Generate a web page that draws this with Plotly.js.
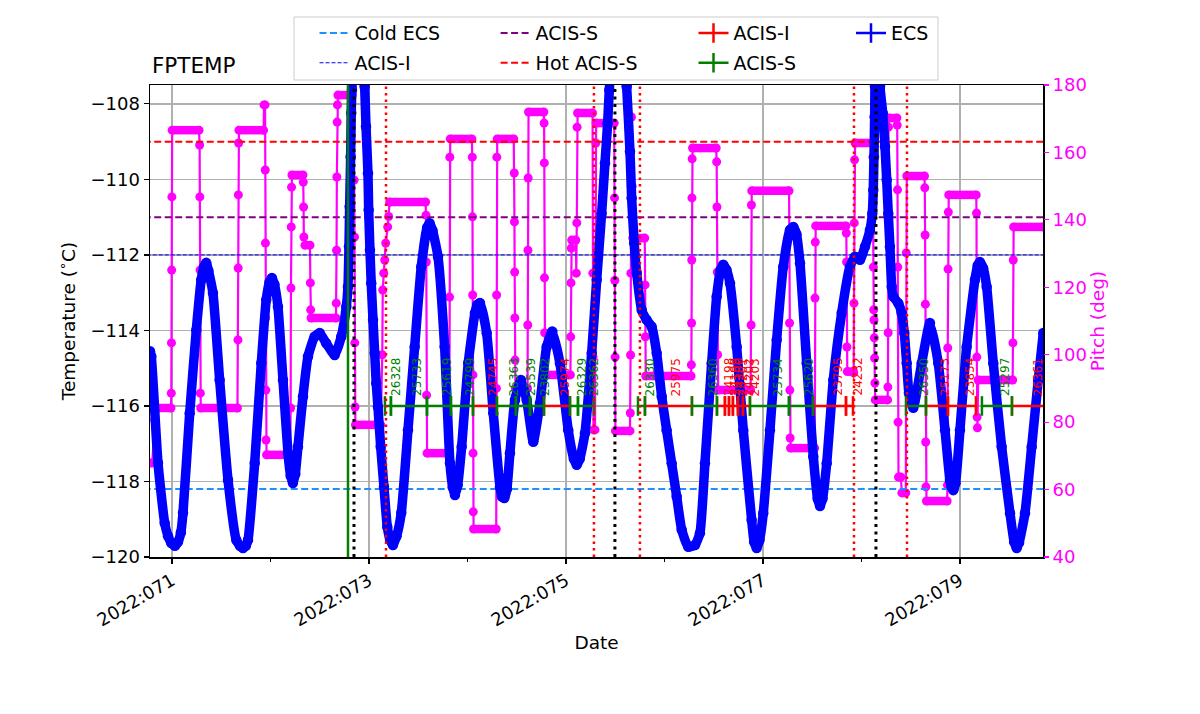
<!DOCTYPE html>
<html><head><meta charset="utf-8">
<script src="https://cdn.plot.ly/plotly-3.0.1.min.js"></script>
<style>html,body{margin:0;padding:0;background:#fff}#chart{width:1200px;height:714px}</style>
</head><body><div id="chart"></div>
<script>
// ---- FPTEMP (day of year 2022, degC) ----
const tempT = [70.777,70.790,70.858,70.926,70.960,70.993,71.030,71.061,71.090,71.112,71.180,71.247,71.297,71.325,71.348,71.370,71.416,71.484,71.569,71.653,71.690,71.721,71.750,71.772,71.840,71.907,71.957,71.990,72.015,72.040,72.076,72.127,72.178,72.205,72.228,72.252,72.279,72.330,72.381,72.449,72.500,72.566,72.652,72.719,72.770,72.787,72.797,72.804,72.814,72.820,72.827,72.89,72.956,72.970,72.990,72.997,73.010,73.023,73.041,73.058,73.074,73.091,73.119,73.152,73.186,73.215,73.244,73.280,73.328,73.396,73.464,73.531,73.590,73.616,73.645,73.701,73.768,73.822,73.850,73.873,73.900,73.941,74.008,74.076,74.100,74.127,74.195,74.262,74.330,74.350,74.374,74.400,74.431,74.482,74.543,74.601,74.668,74.736,74.804,74.861,74.939,75.023,75.080,75.109,75.140,75.193,75.261,75.312,75.362,75.396,75.423,75.440,75.53,75.616,75.650,75.667,75.693,75.718,75.769,75.819,75.870,75.921,75.972,76.022,76.073,76.124,76.175,76.242,76.310,76.360,76.411,76.479,76.530,76.570,76.597,76.630,76.665,76.733,76.800,76.885,76.910,76.936,76.965,77.003,77.071,77.139,77.206,77.274,77.308,77.340,77.376,77.444,77.511,77.555,77.579,77.605,77.647,77.714,77.799,77.883,77.934,77.985,78.036,78.086,78.110,78.120,78.127,78.134,78.137,78.16,78.188,78.216,78.239,78.256,78.272,78.289,78.307,78.323,78.374,78.408,78.435,78.459,78.482,78.526,78.611,78.695,78.780,78.848,78.898,78.915,78.932,78.955,79.000,79.068,79.152,79.180,79.203,79.235,79.271,79.338,79.423,79.508,79.550,79.576,79.600,79.660,79.728,79.795,79.846];
const tempV = [-114.55,-114.69,-117.51,-119.10,-119.45,-119.63,-119.70,-119.60,-119.35,-118.83,-116.19,-113.99,-112.66,-112.32,-112.21,-112.42,-113.01,-115.31,-117.96,-119.55,-119.70,-119.76,-119.70,-119.55,-117.51,-114.86,-113.19,-112.72,-112.61,-112.78,-113.37,-115.31,-117.25,-117.85,-118.04,-117.80,-117.08,-115.75,-114.69,-114.16,-114.07,-114.34,-114.65,-114.16,-113.37,-112.84,-111.78,-110.72,-109.40,-108.24,-107.63,-105.0,-107.54,-108.60,-109.84,-110.81,-111.87,-112.75,-113.72,-114.60,-115.40,-116.02,-117.08,-118.14,-119.20,-119.55,-119.68,-119.45,-118.83,-116.64,-114.43,-112.31,-111.28,-111.16,-111.35,-112.05,-114.43,-117.51,-118.15,-118.36,-118.10,-117.08,-114.86,-113.54,-113.32,-113.27,-114.07,-116.19,-118.14,-118.40,-118.44,-118.20,-117.25,-115.84,-115.31,-115.84,-116.95,-115.93,-114.43,-114.03,-114.87,-116.64,-117.40,-117.56,-117.40,-116.72,-114.60,-112.66,-110.90,-109.57,-108.51,-107.63,-104.5,-107.54,-109.26,-110.50,-111.69,-112.48,-113.46,-113.72,-113.90,-114.60,-115.75,-116.64,-117.52,-118.40,-119.28,-119.73,-119.68,-119.37,-117.52,-114.87,-113.10,-112.40,-112.26,-112.40,-112.75,-114.43,-116.64,-119.02,-119.60,-119.76,-119.55,-118.84,-116.64,-114.25,-112.31,-111.34,-111.26,-111.45,-112.22,-114.87,-117.34,-118.45,-118.65,-118.45,-117.52,-115.31,-113.54,-112.31,-112.05,-112.13,-111.78,-111.34,-110.90,-110.28,-109.40,-108.34,-107.54,-105.5,-107.54,-108.25,-109.13,-110.01,-110.90,-111.78,-112.84,-113.10,-113.28,-113.54,-114.07,-114.87,-115.66,-116.05,-114.87,-113.80,-114.87,-116.64,-117.96,-118.15,-118.23,-118.05,-116.64,-114.43,-112.66,-112.28,-112.19,-112.35,-112.84,-114.87,-117.08,-118.84,-119.60,-119.76,-119.62,-118.84,-117.08,-115.31,-114.07];

// ---- Pitch (deg) ----
const pitchT = [70.777,70.800,70.825,70.850,70.990,
 70.993,70.995,70.997,70.999,71.002,71.275,
 71.281,71.283,71.285,71.288,71.292,71.665,
 71.670,71.672,71.674,71.677,71.680,71.930,71.935,71.945,
 71.947,71.949,71.951,71.953,71.955,71.960,72.200,
 72.205,72.208,72.211,72.214,72.218,72.330,
 72.333,72.336,72.339,72.350,72.401,72.405,72.408,72.412,72.665,
 72.668,72.671,72.674,72.677,72.680,72.685,72.830,
 72.850,72.853,72.856,72.859,72.862,73.120,
 73.135,73.140,73.150,73.160,73.170,73.190,73.200,73.210,73.575,
 73.579,73.582,73.585,73.590,73.815,
 73.818,73.821,73.825,74.045,
 74.049,74.051,74.053,74.055,74.057,74.059,74.062,74.292,
 74.294,74.296,74.298,74.302,74.470,
 74.475,74.477,74.479,74.481,74.483,74.487,74.610,
 74.612,74.614,74.616,74.620,74.775,
 74.778,74.780,74.782,74.784,74.788,75.045,
 75.048,75.051,75.054,75.058,75.100,
 75.105,75.110,75.113,75.118,75.270,
 75.273,75.276,75.279,75.295,75.300,75.303,75.306,75.490,
 75.493,75.496,75.499,75.502,75.650,
 75.653,75.656,75.659,75.662,75.665,75.672,75.678,75.800,
 75.803,75.806,75.810,76.270,
 76.273,76.275,76.277,76.279,76.281,76.285,76.525,
 76.530,76.533,76.536,76.540,76.545,76.875,
 76.880,76.883,76.886,77.265,
 77.270,77.273,77.276,77.280,77.525,
 77.528,77.531,77.535,77.843,
 77.846,77.849,77.852,77.856,77.918,
 77.921,77.924,77.927,77.930,77.935,78.115,
 78.118,78.121,78.124,78.127,78.130,78.133,78.136,78.140,78.265,
 78.268,78.271,78.274,78.278,78.360,
 78.363,78.366,78.369,78.372,78.376,78.400,78.410,78.450,
 78.455,78.460,78.640,
 78.643,78.646,78.649,78.652,78.655,78.660,78.870,
 78.873,78.876,78.879,78.882,78.886,79.165,
 79.168,79.171,79.174,79.177,79.185,79.535,
 79.538,79.541,79.545,79.843];
const pitchP = [67.9,67.9,80.6,84.2,84.2,
 88.6,103.5,125.1,146.8,166.6,166.6,
 162.2,146.8,125.1,88.6,84.2,84.2,
 104.4,125.7,147.4,162.8,166.6,166.6,174.1,174.1,
 154.8,133.1,110.9,89.5,74.7,70.3,70.3,
 84.2,119.8,137.9,149.7,153.3,153.3,
 151.2,143.8,134.9,132.5,132.5,121.3,113.3,110.9,110.9,
 115.3,131.0,152.7,169.0,174.1,177.0,177.0,
 151.8,134.9,103.5,84.5,79.2,79.2,
 100.0,119.2,124.2,128.1,133.1,137.9,141.0,145.3,145.3,
 141.4,127.5,88.0,70.8,70.8,
 117.1,158.6,164.0,164.0,
 158.6,140.9,117.7,94.0,70.8,53.4,48.3,48.3,
 90.0,117.7,158.6,164.0,164.0,
 153.9,139.4,124.5,110.9,98.4,90.0,90.0,
 108.8,131.0,152.4,172.0,172.0,
 168.7,156.9,122.8,106.5,94.0,94.0,
 105.3,121.3,131.6,134.0,134.0,
 124.2,139.1,167.5,171.7,171.7,
 124.2,99.3,77.7,77.7,124.2,162.8,168.7,168.7,
 146.5,122.0,99.3,77.4,77.4,
 82.7,99.9,124.2,150.0,170.5,150.0,134.6,134.6,
 120.7,105.3,93.7,93.7,
 97.0,109.4,128.1,146.5,158.1,161.3,161.3,
 157.2,143.8,124.5,100.0,89.5,89.5,
 108.8,144.4,148.6,148.6,
 109.4,89.5,75.3,72.3,72.3,
 116.8,133.4,138.2,138.2,
 136.1,127.5,102.3,95.0,95.0,
 94.6,115.3,139.1,157.8,162.8,162.8,
 158.6,126.0,113.3,110.3,105.0,99.0,91.6,86.6,86.6,
 90.4,106.5,167.5,170.2,170.2,
 168.1,148.9,126.0,80.0,63.7,63.7,59.0,59.0,
 130.2,153.0,153.0,
 149.5,135.5,115.0,74.1,60.8,56.6,56.6,
 61.3,102.0,125.4,142.3,147.4,147.4,
 142.0,99.3,81.5,78.3,92.5,92.5,
 103.5,128.1,137.9,137.9];

// ---- Observations ----
const obsIds   = ['26328','25733','25619','24799','24745','26363','25539','23802','25974','26329','26362','26330','25975','26360','24198','24199','24200','24201','24202','24203','25734','25620','23795','24232','26350','25173','23854','25297','26361'];
const obsInst  = ['S','S','S','S','I','S','S','S','I','S','S','S','I','S','I','I','I','I','I','I','S','S','I','I','S','I','I','S','I'];
const obsStart = [73.162,73.223,73.589,73.832,74.056,74.299,74.492,74.635,74.777,75.041,75.122,75.731,75.802,76.279,76.533,76.614,76.655,76.695,76.746,76.797,76.868,77.264,77.508,77.843,78.452,78.655,78.878,79.223,79.528];
const obsStop  = [73.223,73.589,73.832,74.056,74.299,74.492,74.635,74.777,75.041,75.122,75.284,75.802,76.279,76.533,76.614,76.655,76.695,76.746,76.797,76.868,77.264,77.508,77.843,77.914,78.655,78.878,79.162,79.528,79.900];
const obsLevel = -116;

// ---- Limits ----
const limitNames  = ['Cold ECS','ACIS-I','ACIS-S','Hot ACIS-S'];
const limitValues = [-118.2,-112.0,-111.0,-109.0];
const limitColors = ['#1e90ff','#0000ff','#800080','#ff0000'];
const limitWidths = [2,1,2,2];
const limitLegend = ['legend','legend','legend2','legend2'];

// ---- Vertical markers ----
const greenLines = [72.787];
const blackLines = [72.848,75.497,78.147];
const redLines   = [73.173,75.284,75.751,77.924,78.462];

// ---- Axis ticks ----
const xTickVals = [71,73,75,77,79];
const xTickText = ['2022:071','2022:073','2022:075','2022:077','2022:079'];
const xMinorVals = [72,74,76,78];

const FONT = 'DejaVu Sans, Verdana, sans-serif';
const xRange = [70.777, 79.843];

const traces = [];
const dwX = [], dwY = [];
for (let i = 0; i < pitchT.length - 1; i++) {
  if (pitchP[i] === pitchP[i+1]) { dwX.push(pitchT[i], pitchT[i+1], null); dwY.push(pitchP[i], pitchP[i+1], null); }
}
traces.push({x: dwX, y: dwY, xaxis:'x', yaxis:'y', mode:'lines', line:{color:'#ff00ff', width:8.5}, showlegend:false, hoverinfo:'skip'});
traces.push({x: pitchT, y: pitchP, xaxis:'x', yaxis:'y', mode:'lines+markers', line:{color:'#ff00ff', width:2.2}, marker:{color:'#ff00ff', size:9}, showlegend:false});

limitNames.forEach((n, i) => {
  traces.push({x:[70.5, 80.2], y:[limitValues[i], limitValues[i]], xaxis:'x', yaxis:'y2', mode:'lines', name:n,
    legendgroup:'g' + i,
    line:{color:limitColors[i], width:limitWidths[i], dash: limitWidths[i] > 1 ? '7px,3.5px' : '4px,2px'}, legend: limitLegend[i]});
});

traces.push({x: tempT, y: tempV, xaxis:'x', yaxis:'y2', mode:'lines+markers', line:{color:'#0000ff', width:9.5, shape:'spline', smoothing:0.5}, marker:{color:'#0000ff', size:10.5}, showlegend:false});

function obsTrace(inst, color, name, grp) {
  const xs = [], ys = [];
  obsIds.forEach((id, i) => { if (obsInst[i] === inst) { xs.push(obsStart[i], obsStop[i], null); ys.push(obsLevel, obsLevel, null); } });
  return {x: xs, y: ys, xaxis:'x', yaxis:'y2', mode:'lines+markers', name: name, legend:'legend3', legendgroup: grp,
    line:{color: color, width:2.5}, marker:{symbol:'line-ns', size:14, color: color, line:{color: color, width:2.5}}};
}
traces.push(obsTrace('I', '#ff0000', 'ACIS-I', 'e1'));
traces.push(obsTrace('S', '#008000', 'ACIS-S', 'e2'));
traces.push({x:[null], y:[null], xaxis:'x', yaxis:'y2', mode:'lines+markers', name:'ECS', legend:'legend4', legendgroup:'e3',
  line:{color:'#0000ff', width:2.5}, marker:{symbol:'line-ns', size:14, color:'#0000ff', line:{color:'#0000ff', width:2.5}}});

const annotations = obsIds.map((id, i) => ({
  x: (obsStart[i] + obsStop[i]) / 2, y: obsLevel, xref:'x', yref:'y2', text: id, showarrow:false,
  textangle: -90, xanchor:'left', yanchor:'bottom', yshift: 9, borderpad: 0,
  font:{family: FONT, size: 12, color: obsInst[i] === 'I' ? '#ff0000' : '#008000'}
}));
annotations.push({x:0, y:1, xref:'paper', yref:'paper', xanchor:'left', yanchor:'bottom', yshift:5, showarrow:false,
  text:'FPTEMP', font:{family: FONT, size: 21.5, color:'#000'}});

const shapes = [];
shapes.push({type:'rect', xref:'paper', yref:'paper', x0:0.1613, x1:0.8824, y0:1.0106, y1:1.1441, line:{color:'#cccccc', width:1}, fillcolor:'#ffffff', layer:'below'});
greenLines.forEach(t => shapes.push({type:'line', xref:'x', yref:'paper', x0:t, x1:t, y0:0, y1:1, line:{color:'#008000', width:2.5}, layer:'above'}));
blackLines.forEach(t => shapes.push({type:'line', xref:'x', yref:'paper', x0:t, x1:t, y0:0, y1:1, line:{color:'#000000', width:3, dash:'3px,4.5px'}, layer:'above'}));
redLines.forEach(t => shapes.push({type:'line', xref:'x', yref:'paper', x0:t, x1:t, y0:0, y1:1, line:{color:'#ff0000', width:2.5, dash:'2.5px,4px'}, layer:'above'}));

function leg(xpx) {
  return {x: (xpx - 150) / 893, y: 1.150, xanchor:'left', yanchor:'top', orientation:'v', bgcolor:'rgba(0,0,0,0)', borderwidth:0,
    traceorder:'grouped', tracegroupgap: 2, font:{family: FONT, size: 19, color:'#000'}};
}

const layout = {
  width: 1200, height: 714,
  margin: {l:150, r:157, t:85, b:157},
  paper_bgcolor:'#fff', plot_bgcolor:'#fff',
  font: {family: FONT, size: 18, color:'#000'},
  xaxis: {range: xRange, tickmode:'array', tickvals: xTickVals, ticktext: xTickText, tickangle: -30,
    ticks:'outside', ticklen:5, tickwidth:1.2, tickcolor:'#000', tickfont:{size:18},
    showgrid:true, gridcolor:'#b0b0b0', gridwidth:1.5, zeroline:false,
    showline:true, linecolor:'#000', linewidth:1.5, mirror:true,
    minor:{tickmode:'array', tickvals: xMinorVals, ticks:'outside', ticklen:3, tickwidth:1, tickcolor:'#000', showgrid:false},
    title:{text:'Date', font:{size:18.5}, standoff: 6}},
  yaxis: {range:[40,180], tick0:40, dtick:20, side:'right', anchor:'x', showgrid:false, zeroline:false,
    ticks:'outside', ticklen:5, tickwidth:1.2, tickcolor:'#ff00ff', tickfont:{size:18, color:'#ff00ff'}, showline:false,
    title:{text:'Pitch (deg)', font:{size:18.5, color:'#ff00ff'}, standoff: 4}},
  yaxis2: {range:[-120,-107.5], tick0:-120, dtick:2, side:'left', overlaying:'y', anchor:'x',
    showgrid:true, gridcolor:'#b0b0b0', gridwidth:1.5, zeroline:false,
    ticks:'outside', ticklen:5, tickwidth:1.2, tickcolor:'#000', tickfont:{size:18},
    showline:true, linecolor:'#000', linewidth:1.5, mirror:true,
    title:{text:'Temperature (<sup>∘</sup>C)', font:{size:18.5}, standoff: 10}},
  legend: leg(314.5), legend2: leg(495.6), legend3: leg(693.5), legend4: leg(851),
  annotations: annotations,
  shapes: shapes
};

Plotly.newPlot('chart', traces, layout, {staticPlot:true, displayModeBar:false});
</script></body></html>
